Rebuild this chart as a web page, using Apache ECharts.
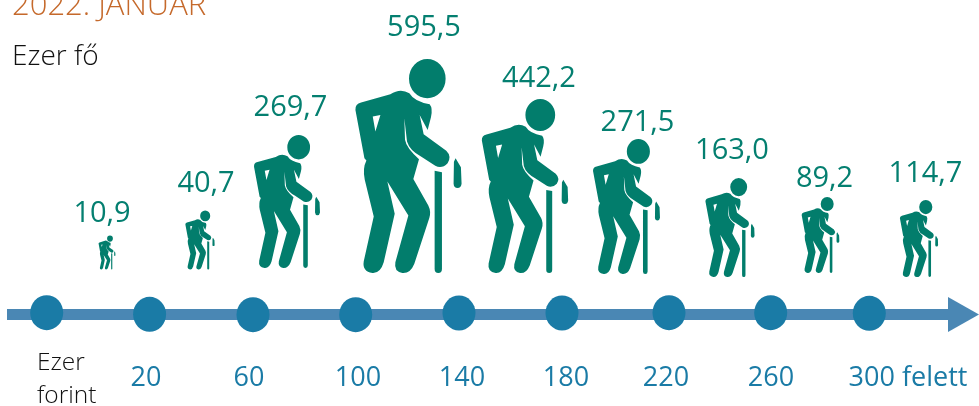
<!DOCTYPE html>
<html>
<head>
<meta charset="utf-8">
<style>html,body{margin:0;padding:0;background:#fff}#c{width:979px;height:406px}</style>
<script src="https://cdn.jsdelivr.net/npm/echarts@6/dist/echarts.min.js"></script>
</head>
<body>
<div id="c"></div>
<script>
// Data
const titleText = '2022. JANUÁR';
const unitText = 'Ezer fő';
const incomeUnit = 'Ezer\nforint';
const tickLabels = ['', '20', '60', '100', '140', '180', '220', '260', '300 felett'];
const bands = ['<20', '20-60', '60-100', '100-140', '140-180', '180-220', '220-260', '260-300', '300+'];
const people = [10.9, 40.7, 269.7, 595.5, 442.2, 271.5, 163.0, 89.2, 114.7];

// Layout (styling only, separate from the data)
const iconHeight = [34, 59, 133, 214, 174, 135, 99, 76, 77];
const iconDx = [9.5, -0.5, -16.5, 2, 15.5, 14, 14.5, 2, -2.5];
const iconLift = [45.5, 45.5, 47, 42, 42, 41, 38, 42, 38];
const labelDx = [4.5, 5.5, -13, 17.5, 29.5, 25, 16.5, 6, 4];
const labelLift = [101, 131, 207, 287, 236, 192, 164, 136, 141];
const dotDx = [0.7, 0.6, 1, 0.7, 1, 1, 5, 3.7, -0.7];
const dotDy = [-2.3, -0.7, -0.3, -0.3, -2, -2, -2.3, -2.3, -1.7];
const tickDx = [0, -3, -3, 3, 4, 5, 2, 4, 38];

const FONT = '"Open Sans"';
const GREEN = '#027d6c';
const BLUE = '#1a7ba6';

const PERSON =
  'M206 116 A55 59 0 1 1 316 116 A55 59 0 1 1 206 116 Z ' +
  'M45 210 Q44 192 62 188 L150 163 Q180 143 207 160 Q222 185 268 193 Q278 205 272 232 L262 270 L238 225 L250 283 ' +
  'L318 333 Q335 350 322 370 Q305 388 285 378 L242 350 Q208 332 200 305 L192 235 L194 300 Q198 325 236 358 L219 418 ' +
  'L264 497 Q273 515 267 535 L222 672 Q210 702 186 700 Q160 696 165 668 L204 527 L141 425 L163 522 L130 668 ' +
  'Q120 702 96 700 Q65 696 70 665 L100 530 L73 420 Q66 385 78 362 L72 355 Z ' +
  'M97 230 L105 275 L120 225 Z ' +
  'M283 393 L305 397 L305 688 Q305 700 294 700 Q283 700 283 688 Z ' +
  'M341 366 L346 355 L362 382 L364 432 Q362 445 352 445 Q341 445 340 432 Z';

function renderPerson(params, api) {
  const i = params.dataIndex;
  const base = api.coord([api.value(0), 0]);
  const h = iconHeight[i];
  const w = h * 0.498;
  const cx = base[0] + iconDx[i];
  const bottom = base[1] - iconLift[i];
  return {
    type: 'group',
    children: [
      {
        type: 'path',
        shape: { pathData: PERSON, x: cx - w / 2, y: bottom - h, width: w, height: h },
        style: { fill: GREEN }
      },
      {
        type: 'text',
        style: {
          text: api.value(1).toFixed(1).replace('.', ','),
          x: base[0] + labelDx[i],
          y: base[1] - labelLift[i],
          align: 'center',
          verticalAlign: 'middle',
          fill: '#047f70',
          font: '29px ' + FONT
        }
      }
    ]
  };
}

const chart = echarts.init(document.getElementById('c'));
chart.setOption({
  animation: false,
  backgroundColor: '#fff',
  title: [
    { text: titleText, left: 7, top: -14, textStyle: { fontFamily: FONT, fontSize: 31, fontWeight: 300, color: '#c5692b' } },
    { text: unitText, left: 7, top: 38, textStyle: { fontFamily: FONT, fontSize: 28, fontWeight: 300, color: '#111' } },
    { text: incomeUnit, left: 32, top: 342, textStyle: { fontFamily: FONT, fontSize: 24.5, fontWeight: 300, color: '#111', lineHeight: 33 } }
  ],
  grid: [
    { left: -5.5, width: 927, top: 100, height: 215, outerBoundsMode: 'none' },
    { left: 46, width: 927, top: 0, height: 315, outerBoundsMode: 'none' },
    { left: 7, width: 956.5, top: 100, height: 214.5, outerBoundsMode: 'none' }
  ],
  xAxis: [
    {
      gridIndex: 0, type: 'category', boundaryGap: true,
      data: tickLabels.map((t, i) => ({
        value: t,
        textStyle: { padding: [0, Math.max(0, -2 * tickDx[i]), 0, Math.max(0, 2 * tickDx[i])] }
      })),
      axisLine: { show: false }, axisTick: { show: false },
      axisLabel: { show: true, interval: 0, hideOverlap: false, margin: 50, color: BLUE, fontFamily: FONT, fontSize: 27 }
    },
    {
      gridIndex: 1, type: 'category', boundaryGap: true, data: bands,
      axisLine: { show: false }, axisTick: { show: false }, axisLabel: { show: false }
    },
    {
      gridIndex: 2, type: 'value', min: 0, max: 1,
      splitLine: { show: false }, axisTick: { show: false }, axisLabel: { show: false },
      axisLine: {
        show: true, onZero: false,
        symbol: ['none', 'triangle'], symbolSize: [35, 31],
        lineStyle: { color: '#4a87b4', width: 11, cap: 'butt' }
      }
    }
  ],
  yAxis: [
    { gridIndex: 0, type: 'value', min: 0, max: 1, show: false },
    { gridIndex: 1, type: 'value', min: 0, max: 600, show: false },
    { gridIndex: 2, type: 'value', min: 0, max: 1, show: false }
  ],
  series: [
    {
      type: 'scatter', xAxisIndex: 0, yAxisIndex: 0, clip: false, silent: true, z: 3,
      symbol: 'circle', symbolSize: [33, 35],
      itemStyle: { color: BLUE, opacity: 1 },
      data: tickLabels.map((t, i) => ({ value: [i, 0], symbolOffset: [dotDx[i], dotDy[i]] }))
    },
    {
      type: 'custom', xAxisIndex: 1, yAxisIndex: 1, clip: false, silent: true, z: 4,
      renderItem: renderPerson,
      encode: { x: 0, y: 1 },
      data: people.map((v, i) => [i, v])
    }
  ]
});
</script>
</body>
</html>
